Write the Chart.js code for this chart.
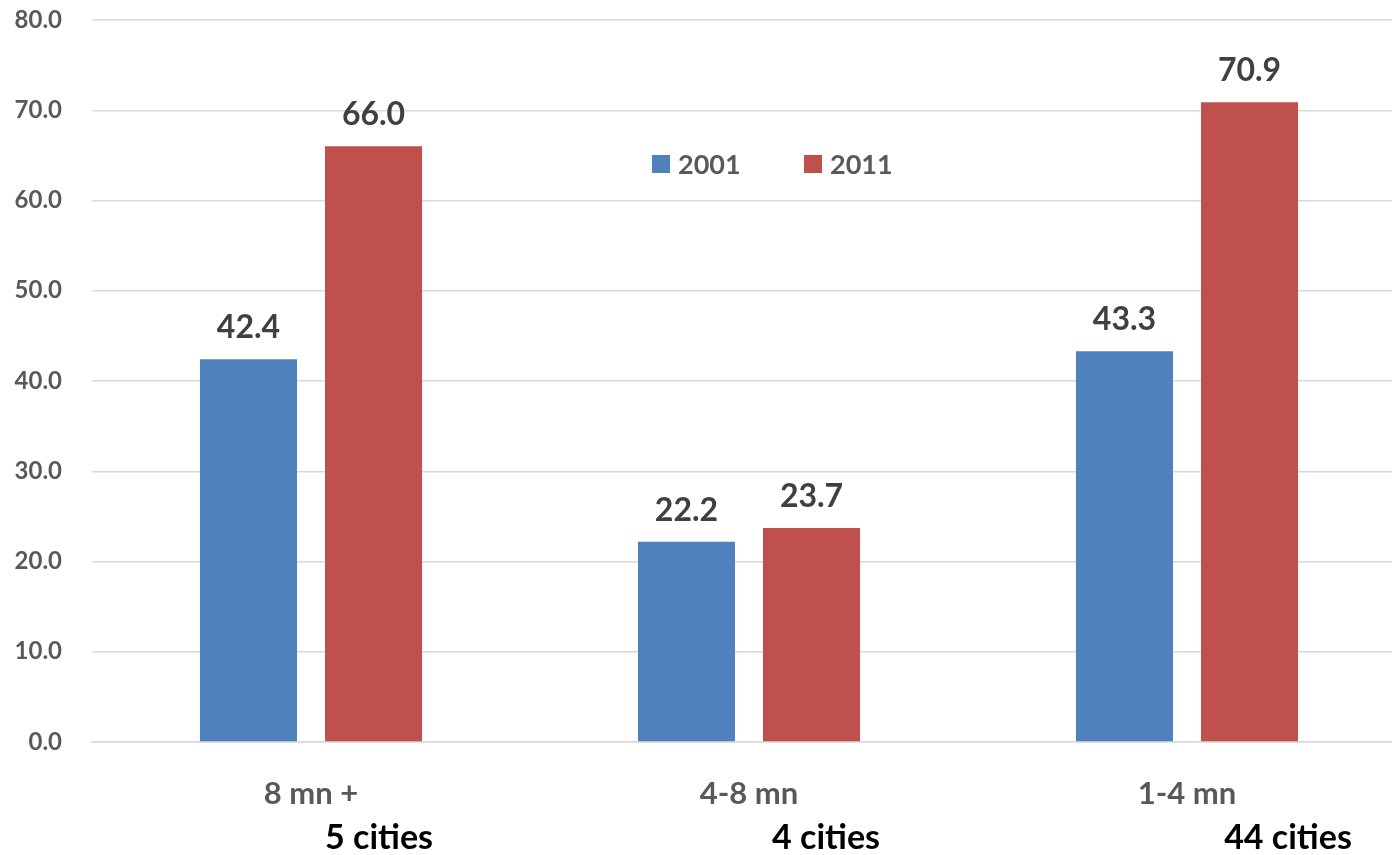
<!DOCTYPE html>
<html>
<head>
<meta charset="utf-8">
<script src="https://cdn.jsdelivr.net/npm/chart.js@4/dist/chart.umd.min.js"></script>
<style>
html, body { margin: 0; padding: 0; overflow: hidden; background: #fff; }
canvas { position: absolute; left: 0; top: 0; }
</style>
</head>
<body>
<canvas id="chart1" width="1406" height="855"></canvas>
<script>
var categories = ['8 mn +', '4-8 mn', '1-4 mn'];
var cityNotes = ['5 cities', '4 cities', '44 cities'];
var noteShift = [68, 77, 101];
var years = ['2001', '2011'];
var values2001 = [42.4, 22.2, 43.3];
var values2011 = [66.0, 23.7, 70.9];
var yTicks = [0, 10, 20, 30, 40, 50, 60, 70, 80];

var fontName = 'Lato, "Open Sans", sans-serif';

// value labels above each bar
var barLabels = {
    id: 'barLabels',
    afterDatasetsDraw: function(chart) {
        var c = chart.ctx;
        c.save();
        c.font = 'bold 32px ' + fontName;
        c.fillStyle = '#404040';
        c.textAlign = 'center';
        c.textBaseline = 'alphabetic';
        chart.data.datasets.forEach(function(ds, i) {
            chart.getDatasetMeta(i).data.forEach(function(bar, j) {
                c.fillText(ds.data[j].toFixed(1), bar.x, bar.y - 21);
            });
        });
        c.restore();
    }
};

// second line under the category labels
var cityLine = {
    id: 'cityLine',
    afterDraw: function(chart) {
        var c = chart.ctx;
        var xs = chart.scales.x;
        c.save();
        c.font = 'bold 34px ' + fontName;
        c.fillStyle = '#000';
        c.textAlign = 'center';
        c.textBaseline = 'alphabetic';
        cityNotes.forEach(function(t, i) {
            c.fillText(t, xs.getPixelForValue(i) + noteShift[i], 849);
        });
        c.restore();
    }
};

// legend sitting inside the plot
var innerLegend = {
    id: 'innerLegend',
    afterDraw: function(chart) {
        var c = chart.ctx;
        c.save();
        c.font = 'bold 27px ' + fontName;
        c.textBaseline = 'alphabetic';
        var x = 652, y = 164;
        chart.data.datasets.forEach(function(ds) {
            c.fillStyle = ds.backgroundColor;
            c.fillRect(x, y - 9, 18, 18);
            c.fillStyle = '#595959';
            c.fillText(ds.label, x + 26, y + 10);
            x += 152;
        });
        c.restore();
    }
};

var ctx1 = document.getElementById('chart1').getContext('2d');
new Chart(ctx1, {
    type: 'bar',
    plugins: [barLabels, cityLine, innerLegend],
    data: {
        labels: categories,
        datasets: [{
            label: years[0],
            data: values2001,
            backgroundColor: '#4F81BD',
            categoryPercentage: 0.571,
            barPercentage: 0.776
        }, {
            label: years[1],
            data: values2011,
            backgroundColor: '#C0504D',
            categoryPercentage: 0.571,
            barPercentage: 0.776
        }]
    },
    options: {
        responsive: false,
        animation: false,
        layout: { padding: { top: 20, left: 0, right: 0, bottom: 0 } },
        plugins: {
            legend: { display: false },
            tooltip: { enabled: false }
        },
        scales: {
            x: {
                grid: { display: false },
                border: { color: '#d9d9d9', width: 1.5 },
                ticks: {
                    color: '#595959',
                    font: { family: fontName, size: 31, weight: 'bold' },
                    padding: 25
                },
                afterFit: function(s) { s.height = 113; }
            },
            y: {
                min: 0,
                max: 80,
                afterBuildTicks: function(s) {
                    s.ticks = yTicks.map(function(v) { return { value: v }; });
                },
                grid: { color: '#d9d9d9', lineWidth: 1.5, drawTicks: false },
                border: { display: false },
                ticks: {
                    color: '#595959',
                    font: { family: fontName, size: 24, weight: 'bold' },
                    padding: 30,
                    callback: function(v) { return Number(v).toFixed(1); }
                },
                afterFit: function(s) {
                    s.width = 92;
                    s.paddingTop = 0;
                    s.paddingBottom = 0;
                }
            }
        }
    }
});
</script>
</body>
</html>
